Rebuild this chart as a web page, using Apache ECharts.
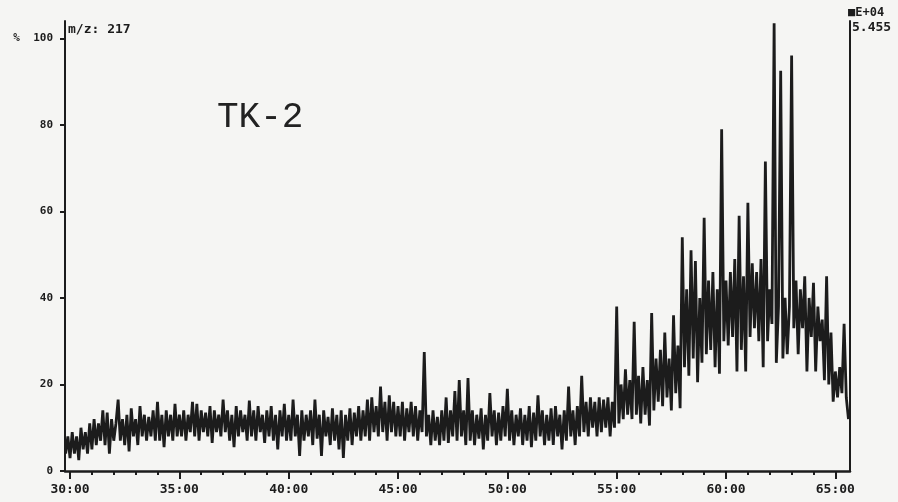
<!DOCTYPE html>
<html>
<head>
<meta charset="utf-8">
<title>TK-2 m/z 217</title>
<script src="https://cdn.jsdelivr.net/npm/echarts@6/dist/echarts.min.js"></script>
<style>
  html, body { margin: 0; padding: 0; background: #f5f5f3; }
  #main { width: 898px; height: 502px; }
</style>
</head>
<body>
<div id="main"></div>
<script>
// scan time step (min) between readings
var step = 0.1;

// start time (min) of each block of readings
var blockStarts = [29.8, 35, 40, 45, 50, 55, 60, 65];

// relative abundance (%), one value every 0.1 min
var trace30 = [4,8,3,9,4,8,2.5,10,5,9, 4,11,5,12,6,11,7,14,6,13.5, 4,12,7,11,16.5,7,12,6,13,4.5,
               14.5,8,12,6,15,8,13,7,12.5,8, 14,7,16,7,13,5.5,14,8,13,7, 15.5,8];
var trace35 = [13,8,14,7,13,9,16,8,15.5,7, 14,9,13.5,8,15,6.5,14,9,13,8, 16.5,9,14,7,13,5.5,15,8,14,9,
               13,7,16.3,8,14,7,15,9,13,6.5, 14,8,15,7,13,5,14,8,15.5,7];
var trace40 = [13,7,16.5,8,13,3.5,14,7,13,8, 14,6,16.5,7.5,13,3.5,14,8,12.5,6, 14.5,7,13,5,14,3,13,7,14.5,6,
               13.5,8,15,7,14,8,16.5,7,17,9, 15,8,19.5,9,16,7,17.5,9,16,8];
var trace45 = [15,8,16,7,14.5,9,16,8,15,7, 14,9,27.5,8,13,6,14,7,12.5,6, 14,7,17,6.5,14,8,18.5,7,21,8,
               14,6,21.5,7,14,6,13,7.5,14.5,5, 13,7,18,8,14,6,13.5,7,15,8];
var trace50 = [19,7,14,6,13,8,14.5,6,13,7, 15,5.5,13.5,7,17.5,8,14,6,13,7, 14.5,6,15,8,13,5,14,7,19.5,8,
               14,6,15,8,22,9,16,8,17,10, 16,8,17,9,16.5,10,17,8,16,10];
var trace55 = [38,11,20,12,23.5,13,21,12,34.5,13, 22,11,24,13,21,10.5,36.5,14,26,16, 28,15,32,17,26,14,36,18,29,14.5,
               54,24,42,22,51,26,48.5,20.5,40,25, 58.5,27,44,28,46,24,42,22.5,79,30];
var trace60 = [44,29,46,31,49,23,59,28,45,23, 62,31,48,33,46,30,49,24,71.5,30, 42,34,103.5,25,38,92.5,26,40,27,38,
               96,33,44,27,42,33,45,23,40,31, 43.5,23,38,30,35,21,45,20,32,16];
var trace65 = [23,17,24,18,34,17,12];

var blocks = [trace30, trace35, trace40, trace45, trace50, trace55, trace60, trace65];

// axis ticks
var yLabelValues = [0, 20, 40, 60, 80, 100];
var xLabelValues = [30, 35, 40, 45, 50, 55, 60, 65];
var xMinorValues = [];
for (var m = 30; m <= 65; m++) {
    xMinorValues.push(m);
}

var ink = '#1c1c1c';
var dotFont = '"DejaVu Sans Mono", monospace';

// 把各段读数拼成 [时间, 丰度]
var traceData = [];
for (var b = 0; b < blocks.length; b++) {
    for (var i = 0; i < blocks[b].length; i++) {
        traceData.push([Math.round((blockStarts[b] + i * step) * 100) / 100, blocks[b][i]]);
    }
}

var myChart = echarts.init(document.getElementById('main'));

var option = {
    backgroundColor: '#f5f5f3',
    animation: false,
    grid: { left: 65, right: 48, top: 21, bottom: 31 },
    xAxis: [
        {
            type: 'value',
            min: 29.77,
            max: 65.67,
            splitLine: { show: false },
            axisLine: { show: true, onZero: false, lineStyle: { color: ink, width: 2.5 } },
            axisTick: { show: true, length: 8, customValues: xLabelValues, lineStyle: { color: ink, width: 2 } },
            axisLabel: {
                customValues: xLabelValues,
                margin: 12,
                color: ink,
                fontFamily: dotFont,
                fontWeight: 'bold',
                fontSize: 13,
                formatter: function (v) { return v + ':00'; }
            }
        },
        {
            type: 'value',
            min: 29.77,
            max: 65.67,
            position: 'bottom',
            splitLine: { show: false },
            axisLine: { show: false },
            axisTick: { show: true, length: 4, customValues: xMinorValues, lineStyle: { color: ink, width: 2 } },
            axisLabel: { show: false }
        }
    ],
    yAxis: [
        {
            type: 'value',
            min: 0,
            max: 104,
            splitLine: { show: false },
            axisLine: { show: true, lineStyle: { color: ink, width: 2 } },
            axisTick: { show: true, length: 5, customValues: yLabelValues, lineStyle: { color: ink, width: 2 } },
            axisLabel: {
                customValues: yLabelValues,
                margin: 12,
                color: ink,
                fontFamily: dotFont,
                fontWeight: 'bold',
                fontSize: 11,
                formatter: function (v) { return v === 100 ? '%  100' : String(v); }
            }
        },
        {
            type: 'value',
            min: 0,
            max: 104,
            position: 'right',
            splitLine: { show: false },
            axisLine: { show: true, lineStyle: { color: ink, width: 2 } },
            axisTick: { show: false },
            axisLabel: { show: false }
        }
    ],
    graphic: [
        {
            type: 'text', left: 68, top: 23,
            style: { text: 'm/z: 217', fill: ink, font: 'bold 13px ' + dotFont }
        },
        {
            type: 'text', left: 217, top: 99,
            style: { text: 'TK-2', fill: '#222', font: '36px "Liberation Mono", monospace' }
        },
        {
            type: 'text', left: 848, top: 7,
            style: { text: '■E+04', fill: ink, font: 'bold 12px ' + dotFont }
        },
        {
            type: 'text', left: 852, top: 21,
            style: { text: '5.455', fill: ink, font: 'bold 13px ' + dotFont }
        }
    ],
    series: [
        {
            name: 'm/z 217',
            type: 'line',
            xAxisIndex: 0,
            yAxisIndex: 0,
            data: traceData,
            showSymbol: false,
            clip: false,
            lineStyle: { color: ink, width: 2.8, join: 'miter', miterLimit: 3 },
            emphasis: { disabled: true }
        }
    ]
};

myChart.setOption(option);
</script>
</body>
</html>
